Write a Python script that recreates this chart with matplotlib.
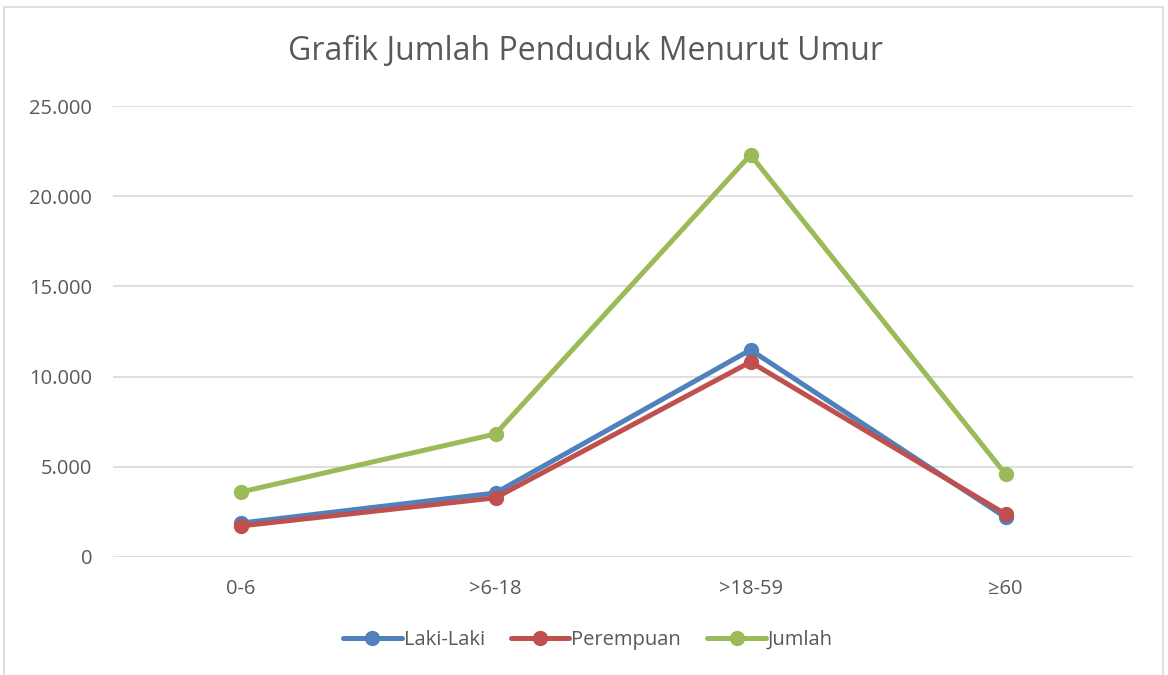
import matplotlib
matplotlib.use("Agg")
import matplotlib.pyplot as plt
from matplotlib.patches import Rectangle
from matplotlib.ticker import FuncFormatter

categories = ["0-6", ">6-18", ">18-59", "≥60"]
laki = [1880, 3550, 11480, 2200]
perempuan = [1720, 3280, 10810, 2380]
jumlah = [3600, 6820, 22290, 4600]
yticks = [0, 5000, 10000, 15000, 20000, 25000]

plt.rcParams['font.family'] = ['Open Sans', 'DejaVu Sans']

fig = plt.figure(figsize=(11.68, 6.75), dpi=100)
fig.patch.set_facecolor('white')
fig.patches.append(Rectangle((4/1168, -0.01), 1159/1168, 1 - 7/675 + 0.01,
                             transform=fig.transFigure, fill=False,
                             edgecolor='#d9d9d9', linewidth=1.2))

ax = fig.add_axes([113/1168, 1 - 557/675, 1020/1168, (557 - 106)/675])
x = list(range(len(categories)))
series = [("Laki-Laki", laki, '#4f81bd'),
          ("Perempuan", perempuan, '#c0504d'),
          ("Jumlah", jumlah, '#9bbb59')]
for name, vals, col in series:
    ax.plot(x, vals, color=col, linewidth=3.6, marker='o', markersize=10,
            label=name, solid_capstyle='round', zorder=3)

ax.set_xlim(-0.5, 3.5)
ax.set_ylim(0, 25000)
ax.set_yticks(yticks)
ax.yaxis.set_major_formatter(FuncFormatter(lambda v, p: f"{int(v):,}".replace(",", ".")))
ax.set_xticks(x)
ax.set_xticklabels(categories)
ax.grid(axis='y', color='#d9d9d9', linewidth=1.2)
ax.set_axisbelow(True)
for s in ax.spines.values():
    s.set_visible(False)
ax.tick_params(axis='both', length=0, labelsize=14.5, colors='#595959')
ax.tick_params(axis='y', pad=15)
ax.tick_params(axis='x', pad=16)

fig.text(585/1168, 1 - 52/675, "Grafik Jumlah Penduduk Menurut Umur",
         ha='center', va='center', fontsize=23, color='#595959')

leg = fig.legend(loc='center', bbox_to_anchor=(588/1168, 1 - 640/675), ncol=3,
                 frameon=False, fontsize=14.5, handlelength=2.9, handletextpad=0.1,
                 columnspacing=1.3)
for t in leg.get_texts():
    t.set_color('#595959')

fig.savefig("out.png", dpi=100)
